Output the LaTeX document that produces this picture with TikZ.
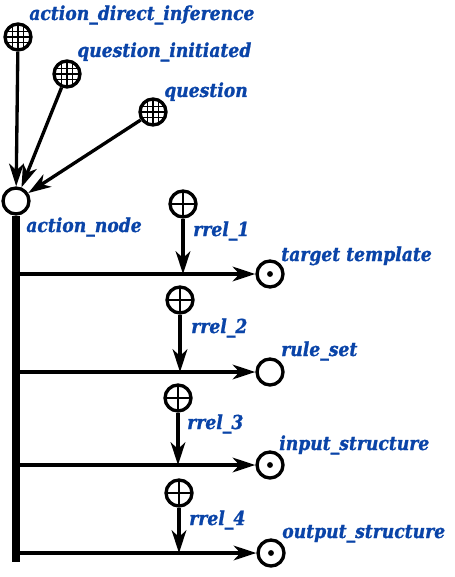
\documentclass[tikz,border=0pt]{standalone}
\usepackage{fontspec}
\setmainfont{DejaVu Serif}[BoldItalicFeatures={FakeBold=1.2}]
\usetikzlibrary{arrows.meta}
\definecolor{lblblue}{RGB}{10,68,168}
\newcommand{\lbltext}[1]{\scalebox{0.92}[1.03]{#1}}
\tikzset{
  lbl/.style={anchor=base west, inner sep=0pt, text=lblblue, font=\fontsize{14pt}{16pt}\selectfont\bfseries\itshape},
  nd/.style={circle, draw, line width=2.5pt, minimum size=19.5pt, inner sep=0pt, fill=white},
  gridnd/.style={nd, path picture={
      \foreach \d in {-4.3pt,0pt,4.3pt}{
        \draw[black, line width=1pt] ([xshift=\d]path picture bounding box.north) -- ([xshift=\d]path picture bounding box.south);
        \draw[black, line width=1pt] ([yshift=\d]path picture bounding box.west) -- ([yshift=\d]path picture bounding box.east);}
    }},
  crossnd/.style={nd, path picture={
      \draw[black, line width=2.2pt] (path picture bounding box.north) -- (path picture bounding box.south);
      \draw[black, line width=2.2pt] (path picture bounding box.west) -- (path picture bounding box.east);
    }},
  dotnd/.style={nd, path picture={\fill[black] (path picture bounding box.center) circle (2.2pt);}},
  arc/.style={line width=2.5pt, -{Stealth[length=17pt, width=11pt, inset=5pt]}},
  bus/.style={line width=6.5pt}
}
\begin{document}
\begin{tikzpicture}[x=0.75pt,y=-0.75pt]
\useasboundingbox (0,0) rectangle (454,577);
% nodes
\node[gridnd] (adi) at (18,37) {};
\node[gridnd] (qi) at (67,74) {};
\node[gridnd] (q) at (153,112) {};
\node[nd] (an) at (16,201) {};
\node[crossnd] (r1) at (183,204) {};
\node[crossnd] (r2) at (180,300) {};
\node[crossnd] (r3) at (178,398) {};
\node[crossnd] (r4) at (179,493) {};
\node[dotnd] (tt) at (270,274) {};
\node[nd] (rs) at (270,372) {};
\node[dotnd] (is) at (270,465) {};
\node[dotnd] (os) at (271,553) {};
% bus
\coordinate (busend) at (16,562);
\coordinate (b1) at (16,274);
\coordinate (b2) at (16,372);
\coordinate (b3) at (16,465);
\coordinate (b4) at (16,553);
\draw[bus] (an.south) -- (busend);
% arcs into action node
\draw[arc] (adi) -- (an);
\draw[arc] (qi) -- (an);
\draw[arc] (q) -- (an);
% horizontal arcs
\draw[arc] (b1) -- (tt);
\draw[arc] (b2) -- (rs);
\draw[arc] (b3) -- (is);
\draw[arc] (b4) -- (os);
% role arcs
\draw[arc] (r1) -- (r1 |- b1);
\draw[arc] (r2) -- (r2 |- b2);
\draw[arc] (r3) -- (r3 |- b3);
\draw[arc] (r4) -- (r4 |- b4);
% labels
\node[lbl] (ladi) at (29,20) {\lbltext{action\_direct\_inference}};
\node[lbl] (lqi) at (77,57) {\lbltext{question\_initiated}};
\node[lbl] (lq) at (164,97) {\lbltext{question}};
\node[lbl] (lan) at (26,232) {\lbltext{action\_node}};
\node[lbl] (lr1) at (193,236) {\lbltext{rrel\_1}};
\node[lbl] (ltt) at (281,261) {\lbltext{target template}};
\node[lbl] (lr2) at (191,333) {\lbltext{rrel\_2}};
\node[lbl] (lrs) at (281,356) {\lbltext{rule\_set}};
\node[lbl] (lr3) at (187,429) {\lbltext{rrel\_3}};
\node[lbl] (lis) at (279,450) {\lbltext{input\_structure}};
\node[lbl] (lr4) at (189,525) {\lbltext{rrel\_4}};
\node[lbl] (los) at (282,538) {\lbltext{output\_structure}};
\end{tikzpicture}
\end{document}
